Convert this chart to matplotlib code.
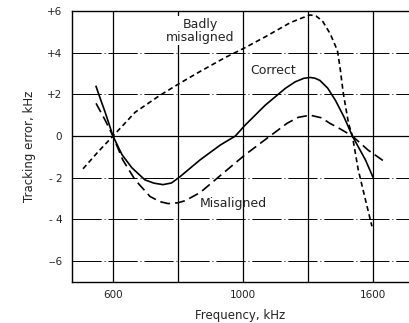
import numpy as np
import matplotlib
matplotlib.use("Agg")
import matplotlib.pyplot as plt

# frequency (kHz) and tracking error (kHz)
freq_correct = [548, 562, 576, 600, 628, 658, 698, 726, 754, 780, 806, 868, 930, 976, 1009,
                1102, 1195, 1240, 1280, 1309, 1330, 1354, 1390, 1426, 1466, 1504, 1564, 1600]
err_correct = [2.38, 1.75, 1.14, 0.0, -0.9, -1.52, -2.1, -2.26, -2.33, -2.25, -1.95, -1.14,
               -0.43, 0.0, 0.52, 1.48, 2.29, 2.6, 2.77, 2.81, 2.78, 2.67, 2.3, 1.71, 0.9,
               0.0, -1.14, -2.0]

freq_mis = [548, 576, 600, 630, 668, 714, 745, 770, 800, 822, 868, 944, 1009, 1111,
            1204, 1255, 1309, 1360, 1402, 1450, 1504, 1576, 1654]
err_mis = [1.57, 0.76, 0.0, -1.14, -2.1, -2.9, -3.15, -3.24, -3.2, -3.1, -2.71, -1.71,
           -0.9, -0.1, 0.62, 0.9, 1.0, 0.88, 0.6, 0.33, 0.0, -0.67, -1.24]

freq_bad = [508, 554, 600, 668, 744, 804, 868, 944, 1009, 1102, 1216, 1260, 1309, 1336,
            1366, 1402, 1435, 1447, 1462, 1486, 1504, 1531, 1564, 1594]
err_bad = [-1.57, -0.76, 0.0, 1.14, 1.95, 2.52, 3.1, 3.76, 4.24, 4.76, 5.43, 5.62, 5.81,
           5.76, 5.52, 4.9, 4.1, 3.29, 2.05, 0.62, 0.0, -1.62, -3.05, -4.33]

grid_freqs = [600, 800, 1000, 1300, 1600]
labelled = {600: "600", 1000: "1000", 1600: "1600"}
err_ticks = [6, 4, 2, 0, -2, -4, -6]
err_labels = ["+6", "+4", "+2", "0", "- 2", "- 4", "--6"]

# the frequency axis in the original is evenly spaced between grid lines
knots = [400, 600, 800, 1000, 1300, 1600, 1900]
pos = [-1, 0, 1, 2, 3, 4, 5]

def fwd(x):
    return np.interp(x, knots, pos)

def inv(p):
    return np.interp(p, pos, knots)

fig = plt.figure(figsize=(4.09, 3.23), dpi=100)
ax = fig.add_axes([0.176, 0.127, 0.824, 0.839])
ax.set_xscale("function", functions=(fwd, inv))
ax.set_xlim(474, 1765)
ax.set_ylim(-7, 6)

for f in grid_freqs:
    ax.axvline(f, color="black", lw=0.9, zorder=1)
for e in err_ticks:
    if e == 0:
        ax.axhline(e, color="black", lw=0.9, zorder=1)
    else:
        ax.axhline(e, color="black", lw=0.7, linestyle=(0, (30, 3, 1, 3)), zorder=1)

ax.plot(freq_correct, err_correct, color="black", lw=1.2, zorder=3)
ax.plot(freq_mis, err_mis, color="black", lw=1.2, linestyle=(0, (6, 3)), zorder=3)
ax.plot(freq_bad, err_bad, color="black", lw=1.2, linestyle=(0, (3, 2)), zorder=3)

ax.text(868, 5.05, "Badly\nmisaligned", ha="center", va="center", fontsize=9,
        linespacing=1.0, color="#222222", zorder=2,
        bbox=dict(facecolor="white", edgecolor="none", pad=1))
ax.text(1138, 3.14, "Correct", ha="center", va="center", fontsize=9, color="#222222")
ax.text(970, -3.24, "Misaligned", ha="center", va="center", fontsize=9, color="#222222")

ax.set_xticks(grid_freqs)
ax.set_xticklabels([labelled.get(f, "") for f in grid_freqs])
ax.set_yticks(err_ticks)
ax.set_yticklabels(err_labels)
ax.tick_params(length=0, labelsize=7.5, colors="#222222")
ax.tick_params(axis="x", pad=6)
ax.tick_params(axis="y", pad=7)
ax.minorticks_off()

ax.spines["right"].set_visible(False)
for s in ["left", "bottom", "top"]:
    ax.spines[s].set_linewidth(1.0)

ax.set_xlabel("Frequency, kHz", fontsize=8.5, labelpad=6, color="#222222")
ax.set_ylabel("Tracking error, kHz", fontsize=8.5, labelpad=8, color="#222222")

fig.savefig("out.png", dpi=100)
